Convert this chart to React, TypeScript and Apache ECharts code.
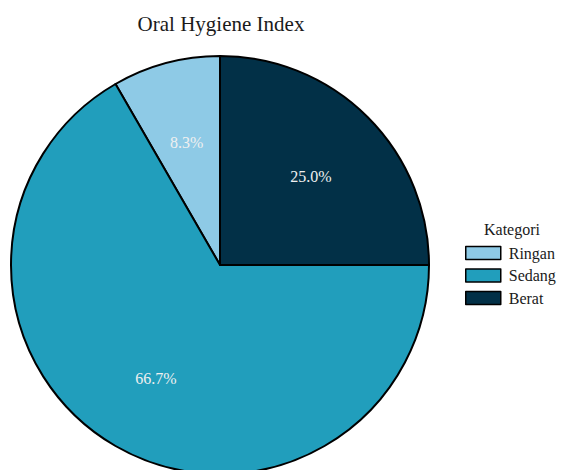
import React, { useEffect, useRef } from "react";
import * as echarts from "echarts";

const categories = ["Ringan", "Sedang", "Berat"];
const counts = [1, 8, 3];
const colors = ["#8ecae6", "#219ebc", "#023047"];
const chartTitle = "Oral Hygiene Index";
const legendTitle = "Kategori";

export default function App() {
  const ref = useRef<HTMLDivElement>(null);
  useEffect(() => {
    if (!ref.current) return;
    const chart = echarts.init(ref.current, undefined, { renderer: "svg" });
    const font = "'Liberation Serif', 'Times New Roman', serif";
    const data = categories.map((name, i) => ({
      name,
      value: counts[i],
      itemStyle: { color: colors[i] },
    }));
    const R = 209;
    chart.setOption({
      animation: false,
      backgroundColor: "#ffffff",
      title: [
        {
          text: chartTitle,
          left: 221,
          textAlign: "center",
          top: 13,
          padding: 0,
          textStyle: { fontFamily: font, fontSize: 21, fontWeight: "normal", color: "#1a1a1a", lineHeight: 21 },
        },
        {
          text: legendTitle,
          left: 512,
          textAlign: "center",
          top: 221,
          padding: 0,
          textStyle: { fontFamily: font, fontSize: 16, fontWeight: "normal", color: "#1a1a1a", lineHeight: 16 },
        },
      ],
      legend: {
        data: categories,
        orient: "vertical",
        left: 465,
        top: 245,
        padding: 0,
        itemWidth: 35,
        itemHeight: 13,
        itemGap: 6.5,
        icon: "rect",
        itemStyle: { borderColor: "#000", borderWidth: 1.5 },
        textStyle: { fontFamily: font, fontSize: 16, color: "#1a1a1a", lineHeight: 16, padding: [0, 0, 0, 3] },
        selectedMode: false,
      },
      series: [
        {
          type: "pie",
          center: [220, 265],
          radius: [0, R],
          startAngle: 90,
          clockwise: false,
          label: { show: false },
          labelLine: { show: false },
          itemStyle: { borderColor: "#000", borderWidth: 2 },
          emphasis: { disabled: true },
          data,
        },
        {
          type: "pie",
          center: [220, 265],
          radius: [R * 0.2, R],
          startAngle: 90,
          clockwise: false,
          silent: true,
          legendHoverLink: false,
          percentPrecision: 1,
          itemStyle: { color: "transparent", borderWidth: 0 },
          emphasis: { disabled: true },
          labelLine: { show: false },
          label: {
            show: true,
            position: "inside",
            offset: [0, 2],
            fontFamily: font,
            fontSize: 16,
            color: "#f0f0f0",
            formatter: (p: any) => Number(p.percent).toFixed(1) + "%",
          },
          data: categories.map((name, i) => ({ name, value: counts[i], itemStyle: { color: "transparent" } })),
        },
      ],
    });
    return () => chart.dispose();
  }, []);
  return (
    <div
      ref={ref}
      style={{ position: "absolute", left: 0, top: 0, width: 561, height: 470 }}
    />
  );
}
